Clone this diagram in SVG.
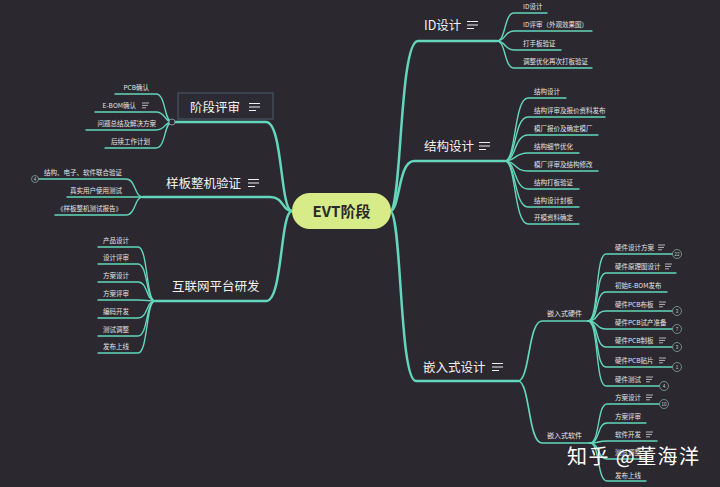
<svg xmlns="http://www.w3.org/2000/svg" width="720" height="487" viewBox="0 0 720 487">
<defs>
<style>
.t{font-family:"Noto Sans CJK SC","Noto Sans",sans-serif;}
.main{font-size:12.5px;fill:#f2f2f2;}
.sub{font-size:7px;fill:#e4e4e4;}
.leaf{font-size:6.5px;fill:#e4e4e4;}
.c1{fill:none;stroke:#63d6bb;stroke-width:2.5;stroke-linecap:round;}
.c2{fill:none;stroke:#63d6bb;stroke-width:1.7;stroke-linecap:round;}
.c3{fill:none;stroke:#63d6bb;stroke-width:1.4;stroke-linecap:round;}
.bd{fill:#2b2830;stroke:#7fa59c;stroke-width:0.8;}
.bn{font-family:"Liberation Sans",sans-serif;font-size:4.5px;fill:#c8c8c8;text-anchor:middle;}
</style>
<g id="nl"><path d="M0,0h11M0,3.5h11M0,7h7" stroke="#f0f0f0" stroke-width="1.2" fill="none"/></g>
<g id="ns"><path d="M0,0h7M0,2.4h6M0,4.8h4" stroke="#d8d8d8" stroke-width="0.8" fill="none"/></g>
</defs>
<rect width="720" height="487" fill="#2b2830"/>

<g id="connectors">
<path class="c1" d="M390,211 C402,211 399,41 418,41 L497,41"/>
<path class="c1" d="M390,211 C400,211 398,161 414,161 L505,161"/>
<path class="c1" d="M390,211 C402,211 399,381 416,381 L518,381"/>
<path class="c3" d="M497,41 C506,41 504,13 514,13 L547,13"/>
<path class="c3" d="M497,41 C506,41 504,31 514,31 L592,31"/>
<path class="c3" d="M497,41 C506,41 504,50 514,50 L561,50"/>
<path class="c3" d="M497,41 C506,41 504,68 514,68 L592,68"/>
<path class="c3" d="M505,161 C516,161 514,98 528,98 L566,98"/>
<path class="c3" d="M505,161 C516,161 514,117 528,117 L605,117"/>
<path class="c3" d="M505,161 C516,161 514,135 528,135 L598,135"/>
<path class="c3" d="M505,161 C516,161 514,153 528,153 L579,153"/>
<path class="c3" d="M505,161 C516,161 514,171 528,171 L598,171"/>
<path class="c3" d="M505,161 C516,161 514,189 528,189 L579,189"/>
<path class="c3" d="M505,161 C516,161 514,207 528,207 L579,207"/>
<path class="c3" d="M505,161 C516,161 514,224 528,224 L579,224"/>
<path class="c2" d="M518,381 C530,381 528,321 542,321 L588,321"/>
<path class="c2" d="M518,381 C530,381 528,443 542,443 L590,443"/>
<path class="c3" d="M588,321 C599,321 595,254 606,254 L673,254"/>
<path class="c3" d="M588,321 C599,321 595,273 606,273 L676,273"/>
<path class="c3" d="M588,321 C599,321 595,292 606,292 L667,292"/>
<path class="c3" d="M588,321 C599,321 595,311 606,311 L673,311"/>
<path class="c3" d="M588,321 C599,321 595,329 606,329 L673,329"/>
<path class="c3" d="M588,321 C599,321 595,347 606,347 L673,347"/>
<path class="c3" d="M588,321 C599,321 595,367 606,367 L673,367"/>
<path class="c3" d="M588,321 C599,321 595,386 606,386 L660,386"/>
<path class="c3" d="M590,443 C600,443 597,404 607,404 L660,404"/>
<path class="c3" d="M590,443 C600,443 597,423 607,423 L646,423"/>
<path class="c3" d="M590,443 C600,443 597,441 607,441 L657,441"/>
<path class="c3" d="M590,443 C600,443 597,459 607,459 L646,459"/>
<path class="c3" d="M590,443 C600,443 597,481 607,481 L646,481"/>
<path class="c1" d="M292,211 C280,211 283,122 266,122 L172,122"/>
<path class="c1" d="M292,211 C282,211 284,197 270,197 L143,197"/>
<path class="c1" d="M292,211 C280,211 283,301 266,301 L155,301"/>
<path class="c3" d="M172,122 C164,122 166,94 156,94 L115,94"/>
<path class="c3" d="M172,122 C164,122 166,112 156,112 L95,112"/>
<path class="c3" d="M172,122 C164,122 166,130 156,130 L86,130"/>
<path class="c3" d="M172,122 C164,122 166,148 156,148 L105,148"/>
<path class="c3" d="M143,197 C134,197 136,179 126,179 L38,179"/>
<path class="c3" d="M143,197 L67,197"/>
<path class="c3" d="M143,197 C134,197 136,215 126,215 L55,215"/>
<path class="c3" d="M155,301 C146,301 148,247 138,247 L98,247"/>
<path class="c3" d="M155,301 C146,301 148,264 138,264 L98,264"/>
<path class="c3" d="M155,301 C146,301 148,282 138,282 L98,282"/>
<path class="c3" d="M155,301 C146,301 148,300 138,300 L98,300"/>
<path class="c3" d="M155,301 C146,301 148,318 138,318 L98,318"/>
<path class="c3" d="M155,301 C146,301 148,336 138,336 L98,336"/>
<path class="c3" d="M155,301 C146,301 148,353 138,353 L98,353"/>
<circle cx="172" cy="122" r="3" fill="#2b2830" stroke="#9ab" stroke-width="0.8"/>
</g>

<g id="center">
<rect x="292" y="193" width="99" height="36" rx="18" fill="#d7ec88"/>
<text class="t" x="341.5" y="216.5" text-anchor="middle" font-size="15" font-weight="bold" fill="#2b2a2a">EVT阶段</text>
</g>

<g id="n-id">
<text class="t main" x="424" y="29.5">ID设计</text>
<use href="#nl" x="467" y="21.5"/>
<text class="t leaf" x="523" y="8.5">ID设计</text>
<text class="t leaf" x="523" y="26.5">ID评审（外观效果图）</text>
<text class="t leaf" x="523" y="45.5">打手板验证</text>
<text class="t leaf" x="523" y="63.5">调整优化再次打板验证</text>
</g>

<g id="n-struct">
<text class="t main" x="424" y="150.5">结构设计</text>
<use href="#nl" x="479" y="142.5"/>
<text class="t leaf" x="534" y="93.5">结构设计</text>
<text class="t leaf" x="534" y="112.5">结构评审及报价资料发布</text>
<text class="t leaf" x="534" y="130.5">模厂报价及确定模厂</text>
<text class="t leaf" x="534" y="148.5">结构细节优化</text>
<text class="t leaf" x="534" y="166.5">模厂评审及结构修改</text>
<text class="t leaf" x="534" y="184.5">结构打板验证</text>
<text class="t leaf" x="534" y="202.5">结构设计封板</text>
<text class="t leaf" x="534" y="219.5">开模资料确定</text>
</g>

<g id="n-embed">
<text class="t main" x="423" y="371.5">嵌入式设计</text>
<use href="#nl" x="492" y="363.5"/>
<text class="t sub" x="547" y="316">嵌入式硬件</text>
<text class="t sub" x="547" y="437.5">嵌入式软件</text>
</g>

<g id="n-hw">
<text class="t leaf" x="615" y="249.5">硬件设计方案</text>
<use href="#ns" x="658" y="245"/>
<circle class="bd" cx="677" cy="254" r="4.5"/><text class="bn" x="677" y="255.6">22</text>
<text class="t leaf" x="615" y="268.5">硬件原理图设计</text>
<use href="#ns" x="665" y="264"/>
<text class="t leaf" x="615" y="287.5">初始E-BOM发布</text>
<text class="t leaf" x="615" y="306.5">硬件PCB布板</text>
<use href="#ns" x="659" y="302"/>
<circle class="bd" cx="677" cy="311" r="4.5"/><text class="bn" x="677" y="312.6">3</text>
<text class="t leaf" x="615" y="324.5">硬件PCB试产准备</text>
<circle class="bd" cx="677" cy="329" r="4.5"/><text class="bn" x="677" y="330.6">7</text>
<text class="t leaf" x="615" y="342.5">硬件PCB制板</text>
<use href="#ns" x="659" y="338"/>
<circle class="bd" cx="677" cy="347" r="4.5"/><text class="bn" x="677" y="348.6">3</text>
<text class="t leaf" x="615" y="362.5">硬件PCB贴片</text>
<use href="#ns" x="659" y="358"/>
<circle class="bd" cx="677" cy="367" r="4.5"/><text class="bn" x="677" y="368.6">1</text>
<text class="t leaf" x="615" y="381.5">硬件测试</text>
<use href="#ns" x="646" y="377"/>
<circle class="bd" cx="664" cy="386" r="4.5"/><text class="bn" x="664" y="387.6">4</text>
</g>

<g id="n-sw">
<text class="t leaf" x="615" y="399.5">方案设计</text>
<use href="#ns" x="646" y="395"/>
<circle class="bd" cx="664" cy="404" r="4.5"/><text class="bn" x="664" y="405.6">10</text>
<text class="t leaf" x="615" y="418.5">方案评审</text>
<text class="t leaf" x="615" y="436.5">软件开发</text>
<use href="#ns" x="646" y="432"/>
<text class="t leaf" x="615" y="454.5">测试调整</text>
<text class="t leaf" x="615" y="477.5">发布上线</text>
</g>

<g id="n-review">
<rect x="178" y="93" width="95" height="26" fill="#2c2b33" stroke="#4d5a6a" stroke-width="1"/>
<text class="t main" x="190" y="111.5">阶段评审</text>
<use href="#nl" x="249" y="103.5"/>
<text class="t leaf" x="149" y="89.5" text-anchor="end">PCB确认</text>
<text class="t leaf" x="136" y="107.5" text-anchor="end">E-BOM确认</text>
<use href="#ns" x="142" y="103"/>
<text class="t leaf" x="156" y="125.5" text-anchor="end" font-size="7">问题总结及解决方案</text>
<text class="t leaf" x="150" y="143.5" text-anchor="end">后续工作计划</text>
</g>

<g id="n-proto">
<text class="t main" x="166" y="187.5">样板整机验证</text>
<use href="#nl" x="248" y="179.5"/>
<text class="t leaf" x="122" y="174.5" text-anchor="end">结构、电子、软件联合验证</text>
<circle class="bd" cx="35" cy="179" r="3.5"/><text class="bn" x="35" y="180.6">4</text>
<text class="t leaf" x="122" y="192.5" text-anchor="end">真实用户使用测试</text>
<text class="t leaf" x="122" y="210.5" text-anchor="end">《样板整机测试报告》</text>
</g>

<g id="n-iot">
<text class="t main" x="172" y="290.5">互联网平台研发</text>
<text class="t leaf" x="103" y="242.5">产品设计</text>
<text class="t leaf" x="103" y="259.5">设计评审</text>
<text class="t leaf" x="103" y="277.5">方案设计</text>
<text class="t leaf" x="103" y="295.5">方案评审</text>
<text class="t leaf" x="103" y="313.5">编码开发</text>
<text class="t leaf" x="103" y="331.5">测试调整</text>
<text class="t leaf" x="103" y="348.5">发布上线</text>
</g>

<text class="t" x="567" y="463.5" font-size="20" textLength="132" fill="#ffffff">知乎 @董海洋</text>
</svg>
